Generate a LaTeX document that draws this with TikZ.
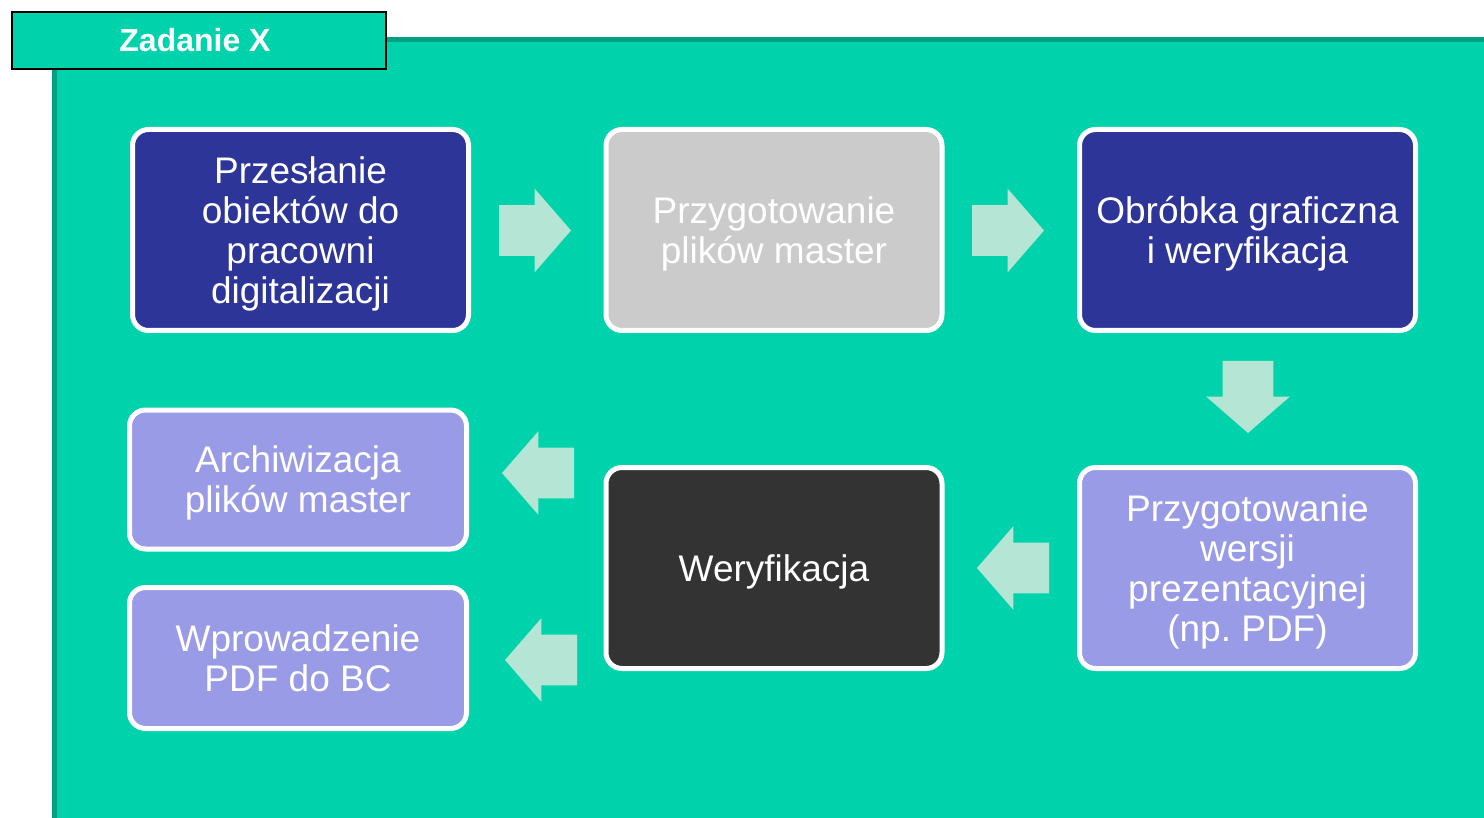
\documentclass[tikz,border=0pt]{standalone}
\usepackage{fontspec}
\setmainfont{Liberation Sans}
\usetikzlibrary{shapes.arrows}
\definecolor{panelfill}{HTML}{00D3AC}
\definecolor{panelline}{HTML}{00A082}
\definecolor{darkblue}{HTML}{2E3599}
\definecolor{lavender}{HTML}{999BE6}
\definecolor{lightgrey}{HTML}{CBCBCB}
\definecolor{darkgrey}{HTML}{333333}
\definecolor{arrowfill}{HTML}{B5E6D5}

\begin{document}
\begin{tikzpicture}[x=0.5pt, y=-0.5pt,
  box/.style={draw=white, line width=2.5pt, rounded corners=8pt, text=white, align=center, inner sep=0pt, text depth=0pt, minimum width=168pt, minimum height=100.5pt, font=\fontsize{18.5}{20}\selectfont},
  smallbox/.style={box, minimum width=168.5pt, minimum height=69.5pt},
  blockarrow/.style={single arrow, fill=arrowfill, inner xsep=0pt, inner ysep=12.5pt, single arrow head extend=8.25pt, single arrow tip angle=98, single arrow head indent=0pt, minimum height=36pt, outer sep=0pt, anchor=tip}]
\useasboundingbox (0,0) rectangle (1484,818);
% panel and title
\draw[panelline, line width=2.5pt, fill=panelfill] (54.5,39.5) rectangle (1530,860);
\node[draw=black, line width=1.25pt, fill=panelfill, minimum width=187pt, minimum height=28.5pt, inner sep=0pt, text=white, font=\bfseries\fontsize{16}{18}\selectfont] (titel) at (199,40.5) {Zadanie X\hspace*{4pt}};

% steps
\node[box, fill=darkblue] (przeslanie) at (300.5,230) {Przesłanie\\obiektów do\\pracowni\\digitalizacji};
\node[box, fill=lightgrey] (master) at (774,230) {Przygotowanie\\plików master};
\node[box, fill=darkblue] (obrobka) at (1247.5,230) {Obróbka graficzna\\i weryfikacja};
\node[box, fill=lavender] (prezentacja) at (1247.5,568) {Przygotowanie\\wersji\\prezentacyjnej\\(np.\ PDF)};
\node[box, fill=darkgrey] (weryfikacja) at (774,568) {Weryfikacja};
\node[smallbox, fill=lavender] (archiwizacja) at (298,479.5) {Archiwizacja\\plików master};
\node[smallbox, fill=lavender, minimum height=70.5pt] (wprowadzenie) at (298,658) {Wprowadzenie\\PDF do BC};

% block arrows, placed by their tips
\foreach \name/\x/\y/\turn in {s1/571/230.5/0, s2/1044/230.5/0, s3/1248/433/-90, s4/977/568/180, s5/502/473/180, s6/505/660/180} {
    \node[blockarrow, rotate=\turn] (\name) at (\x,\y) {};
}
\end{tikzpicture}
\end{document}
